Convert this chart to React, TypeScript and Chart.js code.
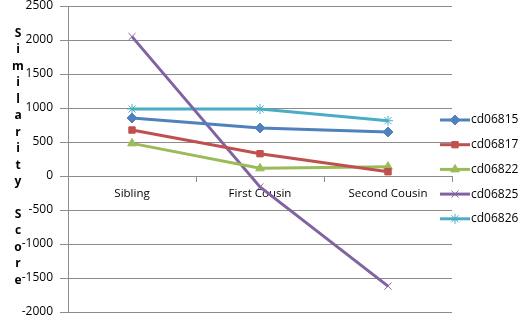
import React, { useEffect, useRef } from "react";
import { Chart, registerables } from "chart.js";
import { drawPoint } from "chart.js/helpers";

Chart.register(...registerables);

const categories = ["Sibling", "First Cousin", "Second Cousin"];
const seriesNames = ["cd06815", "cd06817", "cd06822", "cd06825", "cd06826"];
const cd06815 = [853, 706, 647];
const cd06817 = [676, 328, 63];
const cd06822 = [480, 113, 137];
const cd06825 = [2050, -160, -1620];
const cd06826 = [985, 985, 813];
const yMin = -2000;
const yMax = 2500;
const yStep = 500;
const axisTitle = "Similarity Score";

const colors = ["#4F81BD", "#C0504D", "#9BBB59", "#8064A2", "#4BACC6"];
const markers = ["rectRot", "rect", "triangle", "crossRot", "star"];
const markerRadius = [5, 4.5, 5, 5, 5];

const FONT = "'Open Sans', 'DejaVu Sans', sans-serif";

// Stacked one-letter-per-line axis title on the left
const stackedTitle = {
  id: "stackedTitle",
  afterDraw(chart: any) {
    const { ctx, chartArea } = chart;
    const chars = axisTitle.split("");
    const lh = 16.45;
    const cy = (chartArea.top + chartArea.bottom) / 2 - 2;
    const y0 = cy - ((chars.length - 1) / 2) * lh;
    ctx.save();
    ctx.font = `bold 12px ${FONT}`;
    ctx.fillStyle = "#000";
    ctx.textAlign = "center";
    ctx.textBaseline = "middle";
    chars.forEach((c, i) => ctx.fillText(c, 18, y0 + i * lh));
    ctx.restore();
  },
};

// Legend entries drawn as line + marker + name
const lineLegend = {
  id: "lineLegend",
  afterDraw(chart: any) {
    const { ctx } = chart;
    const x0 = 440;
    const x1 = 470;
    const top = 120;
    const gap = 24.7;
    ctx.save();
    chart.data.datasets.forEach((ds: any, i: number) => {
      const y = top + i * gap;
      ctx.strokeStyle = ds.borderColor;
      ctx.lineWidth = 3;
      ctx.beginPath();
      ctx.moveTo(x0, y);
      ctx.lineTo(x1, y);
      ctx.stroke();
      ctx.fillStyle = ds.pointBackgroundColor;
      ctx.strokeStyle = ds.pointBorderColor;
      ctx.lineWidth = 1;
      drawPoint(ctx, { pointStyle: ds.pointStyle, radius: ds.pointRadius, borderWidth: 1, rotation: 0 }, (x0 + x1) / 2, y);
      ctx.fillStyle = "#000";
      ctx.font = `12px ${FONT}`;
      ctx.textAlign = "left";
      ctx.textBaseline = "middle";
      ctx.fillText(ds.label, x1 + 1, y);
    });
    ctx.restore();
  },
};

export default function App() {
  const canvasRef = useRef<HTMLCanvasElement | null>(null);

  useEffect(() => {
    if (!canvasRef.current) return;
    const values = [cd06815, cd06817, cd06822, cd06825, cd06826];
    const chart = new Chart(canvasRef.current, {
      type: "line",
      data: {
        labels: categories,
        datasets: seriesNames.map((name, i) => ({
          label: name,
          data: values[i],
          borderColor: colors[i],
          backgroundColor: colors[i],
          borderWidth: 3,
          pointStyle: markers[i],
          pointRadius: markerRadius[i],
          pointBackgroundColor: colors[i],
          pointBorderColor: colors[i],
          pointBorderWidth: 1,
          tension: 0,
        })),
      },
      options: {
        animation: false,
        responsive: true,
        maintainAspectRatio: false,
        layout: { padding: { top: 6, right: 74, bottom: 11, left: 0 } },
        plugins: {
          legend: { display: false },
          tooltip: { enabled: false },
        },
        scales: {
          x: {
            type: "category",
            position: { y: 0 } as any,
            offset: true,
            grid: {
              drawOnChartArea: false,
              offset: true,
              color: "#8c8c8c",
              tickLength: 5,
            },
            border: { color: "#8c8c8c", width: 1 },
            ticks: {
              color: "#000",
              font: { family: FONT, size: 11.5 },
              padding: 6,
              maxRotation: 0,
            },
          },
          y: {
            min: yMin,
            max: yMax,
            afterFit: (s: any) => {
              s.width = 68;
              s.paddingTop = 0;
              s.paddingBottom = 0;
            },
            ticks: {
              stepSize: yStep,
              color: "#000",
              font: { family: FONT, size: 12 },
              padding: 7,
              callback: (v: any) => String(v),
            },
            grid: { color: "#8c8c8c", tickLength: 8 },
            border: { color: "#8c8c8c", width: 1 },
          },
        },
      },
      plugins: [stackedTitle, lineLegend],
    });
    return () => chart.destroy();
  }, []);

  return (
    <div style={{ position: "absolute", left: 0, top: 0, width: 526, height: 323, background: "#fff" }}>
      <canvas ref={canvasRef} />
    </div>
  );
}
